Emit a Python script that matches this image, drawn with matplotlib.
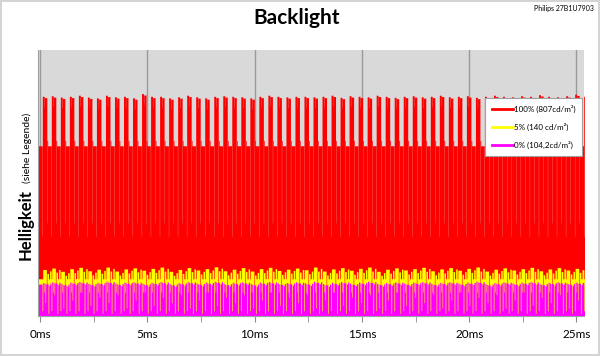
import numpy as np
import matplotlib
matplotlib.use('Agg')
import matplotlib.pyplot as plt
from matplotlib.lines import Line2D

plt.rcParams['font.family'] = ['Lato', 'DejaVu Sans']

# pulse timing (ms)
period = 0.4206
first_pulse = 0.09

# per-cycle levels (arbitrary brightness units, 0..100 of the plot height)
red_peak = [82.6, 82.8, 82.3, 82.6, 83.0, 82.3, 82.0, 83.0, 82.4, 82.6,
            82.0, 83.6, 82.6, 82.6, 82.0, 82.4, 83.0, 82.4, 82.0, 82.6,
            82.8, 82.6, 82.4, 82.0, 82.6, 83.0, 82.6, 82.4, 82.6, 82.6,
            82.4, 82.6, 83.0, 82.2, 82.8, 82.6, 82.4, 83.0, 82.6, 82.2,
            82.6, 82.8, 82.4, 82.6, 83.0, 82.4, 82.6, 82.8, 82.2, 82.6,
            83.0, 82.6, 82.4, 82.8, 82.6, 83.2, 82.6, 82.4, 82.8, 83.4,
            82.6]
yellow_top = [17.5, 18.0, 16.8, 17.8, 18.3, 17.0, 17.6, 18.4, 16.9, 17.7,
              18.1, 17.2, 17.9, 18.4, 16.8, 17.5, 18.2, 17.3, 17.8, 18.5,
              17.0, 17.6, 18.2, 16.9, 17.8, 18.3, 17.1, 17.6, 18.0, 17.4,
              18.4, 16.9, 17.7, 18.2, 17.2, 17.9, 18.4, 16.8, 17.6, 18.1,
              17.3, 17.8, 18.3, 17.0, 17.7, 18.2, 17.2, 17.9, 18.4, 16.9,
              17.6, 18.1, 17.3, 17.8, 18.3, 17.0, 17.7, 18.2, 17.3, 17.9,
              17.5]
magenta_top = [12.6, 12.9, 12.2, 12.8, 13.0, 12.3, 12.7, 13.1, 12.4, 12.8,
               12.9, 12.3, 12.7, 13.0, 12.2, 12.6, 13.0, 12.4, 12.8, 13.1,
               12.3, 12.7, 12.9, 12.2, 12.8, 13.0, 12.4, 12.6, 12.9, 12.5,
               13.1, 12.2, 12.7, 13.0, 12.4, 12.8, 13.1, 12.3, 12.6, 12.9,
               12.4, 12.8, 13.0, 12.3, 12.7, 12.9, 12.4, 12.8, 13.1, 12.2,
               12.6, 12.9, 12.4, 12.8, 13.0, 12.3, 12.7, 12.9, 12.4, 12.8,
               12.6]
magenta_dip = [5, 8, 3, 6, 9, 4, 7, 5, 8, 3, 6, 9, 4, 7, 5, 8, 3, 6, 9, 4,
               7, 5, 8, 3, 6, 9, 4, 7, 5, 8, 3, 6, 9, 4, 7, 5, 8, 3, 6, 9,
               4, 7, 5, 8, 3, 6, 9, 4, 7, 5, 8, 3, 6, 9, 4, 7, 5, 8, 3, 6, 5]

labels = ['100% (807cd/m²)', '5% (140 cd/m²)', '0% (104,2cd/m²)']
colors = ['#ff0000', '#ffff00', '#ff00ff']

# one cycle of each trace: offsets (ms) after the pulse start
red_off = [0, 0.01, 0.10, 0.11, 0.22, 0.23, 0.26]
yel_off = [0, 0.03, 0.20, 0.225, 0.30, 0.35]
mag_off = [0, 0.03, 0.08, 0.10, 0.14, 0.165, 0.28, 0.31, 0.36]


def build(offsets, levels, start_level):
    t = [-0.3]
    v = [start_level]
    for i, lv in enumerate(levels):
        t0 = first_pulse + i * period
        for o, val in zip(offsets, lv):
            t.append(t0 + o)
            v.append(val)
    return np.array(t), np.array(v)


red_lv = [[30, p, p - 4, p - 0.5, 35, 66, 64] for p in red_peak]
yel_lv = [[14, y, 2, y - 1.5, 14, y - 0.5] for y in yellow_top]
mag_lv = [[2, m, 9, m - 0.3, d, m - 0.5, 1, m - 1, m - 0.2]
          for m, d in zip(magenta_top, magenta_dip)]

traces = [build(red_off, red_lv, 64),
          build(yel_off, yel_lv, 14),
          build(mag_off, mag_lv, 12)]

fig = plt.figure(figsize=(6.0, 3.56), dpi=100)
fig.patch.set_edgecolor('#d4d4d4')
fig.patch.set_linewidth(1.5)
ax = fig.add_axes([38 / 600, 40 / 356, 546 / 600, 266 / 356])
ax.set_facecolor('#d9d9d9')

for (t, v), c in zip(traces, colors):
    ax.fill_between(t, 0, v, step='post', color=c, lw=0)

ax.set_xlim(-0.1, 25.35)
ax.set_ylim(0, 100)
ax.set_xticks(np.arange(0, 26, 5))
ax.set_xticklabels([f'{x}ms' for x in range(0, 26, 5)], fontsize=8.5)
ax.set_xticks(np.arange(2.5, 26, 5), minor=True)
ax.tick_params(axis='x', which='both', direction='out', length=4,
               color='#8c8c8c', pad=5)
ax.set_yticks([])
ax.grid(axis='x', which='major', color='#9a9a9a', lw=1)
ax.set_axisbelow(True)
for s in ['top', 'right']:
    ax.spines[s].set_visible(False)
ax.spines['left'].set_color('#a0a0a0')
ax.spines['bottom'].set_color('#a0a0a0')

handles = [Line2D([0], [0], color=c, lw=2) for c in colors]
leg = ax.legend(handles, labels, loc='upper right', bbox_to_anchor=(1.0, 0.825),
                fontsize=5.8, frameon=True, fancybox=False, handlelength=2.6,
                labelspacing=1.25, borderpad=0.8, handletextpad=0.2,
                borderaxespad=0.2)
leg.get_frame().set_edgecolor('#a0a0a0')
leg.get_frame().set_linewidth(0.8)
leg.get_frame().set_alpha(1)

fig.text(297 / 600, 1 - 18 / 356, 'Backlight', ha='center', va='center',
         fontsize=15, fontweight='bold')
fig.text(594 / 600, 1 - 9 / 356, 'Philips 27B1U7903', ha='right', va='center',
         fontsize=5)
fig.text(26 / 600, 1 - 225 / 356, 'Helligkeit', rotation=90, ha='center',
         va='center', fontsize=12, fontweight='bold')
fig.text(27 / 600, 1 - 148 / 356, '(siehe Legende)', rotation=90, ha='center',
         va='center', fontsize=7.5)

fig.savefig('out.png', dpi=100)
